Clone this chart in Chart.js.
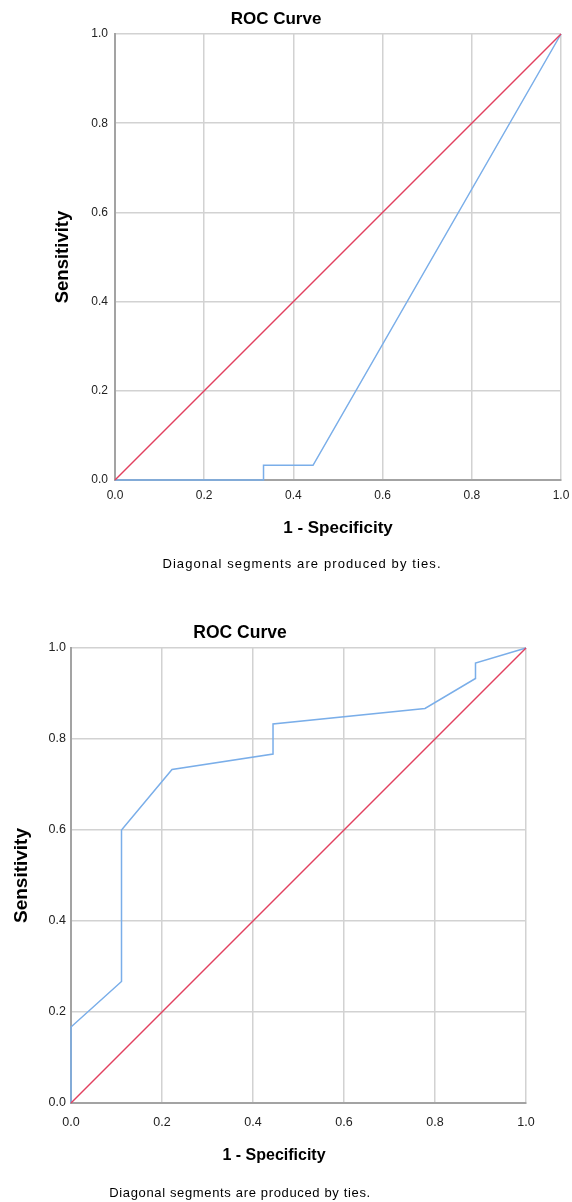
<!DOCTYPE html>
<html>
<head>
<meta charset="utf-8">
<script src="https://cdn.jsdelivr.net/npm/chart.js@4.4.1/dist/chart.umd.min.js"></script>
<style>
  html, body { margin: 0; padding: 0; background: #fff; }
  .box { position: absolute; left: 0; width: 572px; }
  #box1 { top: 0; height: 596px; }
  #box2 { top: 596px; height: 606px; }
</style>
</head>
<body>
<div class="box" id="box1"><canvas id="roc1"></canvas></div>
<div class="box" id="box2"><canvas id="roc2"></canvas></div>
<script>
// chart data
const tickValues = [0, 0.2, 0.4, 0.6, 0.8, 1.0];
const refX = [0, 1];
const refY = [0, 1];

// first curve
const fpr1 = [0, 0.333, 0.333, 0.444, 1];
const tpr1 = [0, 0, 0.033, 0.033, 1];

// second curve
const fpr2 = [0, 0, 0.111, 0.111, 0.222, 0.444, 0.444, 0.778, 0.889, 0.889, 1];
const tpr2 = [0, 0.167, 0.267, 0.6, 0.733, 0.767, 0.833, 0.867, 0.933, 0.967, 1];

const titleText = "ROC Curve";
const xTitle = "1 - Specificity";
const yTitle = "Sensitivity";
const footText = "Diagonal segments are produced by ties.";

const FONT = "'Liberation Sans', Arial, sans-serif";

function toPoints(xs, ys) {
  return xs.map((x, i) => ({ x: x, y: ys[i] }));
}

// draws the title, x axis title and footnote at set places
const captions = {
  id: "captions",
  afterDraw(chart, args, opts) {
    const ctx = chart.ctx;
    opts.items.forEach(t => {
      ctx.save();
      ctx.font = t.font;
      ctx.fillStyle = "#000";
      ctx.textAlign = "center";
      ctx.textBaseline = "alphabetic";
      ctx.letterSpacing = (t.spacing || 0) + "px";
      ctx.fillText(t.text, t.x, t.y);
      ctx.restore();
    });
  }
};

function makeChart(id, fpr, tpr, cfg) {
  return new Chart(document.getElementById(id), {
    type: "scatter",
    data: {
      datasets: [
        {
          label: "Reference Line",
          data: toPoints(refX, refY),
          showLine: true,
          borderColor: "#e2405f",
          borderWidth: 1.5,
          pointRadius: 0,
          clip: false
        },
        {
          label: "ROC",
          data: toPoints(fpr, tpr),
          showLine: true,
          borderColor: "#7aaee9",
          borderWidth: 1.5,
          pointRadius: 0,
          clip: false
        }
      ]
    },
    options: {
      responsive: true,
      maintainAspectRatio: false,
      animation: false,
      layout: { padding: cfg.padding },
      plugins: {
        legend: { display: false },
        tooltip: { enabled: false },
        captions: { items: cfg.captions }
      },
      scales: {
        x: {
          type: "linear",
          min: 0,
          max: 1,
          afterBuildTicks: s => { s.ticks = tickValues.map(v => ({ value: v })); },
          afterFit: s => {
            s.height = cfg.xHeight;
            s.paddingLeft = 0;
            s.paddingRight = 0;
          },
          ticks: {
            padding: cfg.xTickPad,
            color: "#222",
            font: { family: FONT, size: cfg.tickSize },
            maxRotation: 0,
            callback: v => v.toFixed(1)
          },
          grid: { color: "#d2d2d2", lineWidth: 1.5, drawTicks: false },
          border: { color: "#a3a3a3", width: 2 }
        },
        y: {
          type: "linear",
          min: 0,
          max: 1,
          afterBuildTicks: s => { s.ticks = tickValues.map(v => ({ value: v })); },
          afterFit: s => {
            s.width = cfg.yWidth;
            s.paddingTop = 0;
            s.paddingBottom = 0;
          },
          ticks: {
            padding: cfg.yTickPad,
            color: "#222",
            font: { family: FONT, size: cfg.tickSize },
            callback: v => v.toFixed(1)
          },
          grid: { color: "#d2d2d2", lineWidth: 1.5, drawTicks: false },
          border: { color: "#a3a3a3", width: 2 },
          title: {
            display: true,
            text: yTitle,
            color: "#000",
            font: { family: FONT, size: cfg.yTitleSize, weight: "bold" },
            padding: { top: cfg.yTitlePad, bottom: 0 }
          }
        }
      }
    },
    plugins: [captions]
  });
}

makeChart("roc1", fpr1, tpr1, {
  padding: { left: 0, right: 11, top: 34, bottom: 96 },
  xHeight: 20,
  yWidth: 115,
  xTickPad: 8,
  yTickPad: 7,
  tickSize: 12,
  yTitleSize: 18.5,
  yTitlePad: 52,
  captions: [
    { text: titleText, x: 276, y: 24, font: "bold 17px " + FONT },
    { text: xTitle, x: 338, y: 533, font: "bold 17px " + FONT },
    { text: footText, x: 302, y: 568, font: "13px " + FONT, spacing: 1.1 }
  ]
});

makeChart("roc2", fpr2, tpr2, {
  padding: { left: 0, right: 46, top: 52, bottom: 75 },
  xHeight: 24,
  yWidth: 71,
  xTickPad: 12,
  yTickPad: 5,
  tickSize: 12.5,
  yTitleSize: 19,
  yTitlePad: 10.5,
  captions: [
    { text: titleText, x: 240, y: 42, font: "bold 17.5px " + FONT },
    { text: xTitle, x: 274, y: 564, font: "bold 16px " + FONT },
    { text: footText, x: 240, y: 601, font: "13px " + FONT, spacing: 0.65 }
  ]
});
</script>
</body>
</html>
